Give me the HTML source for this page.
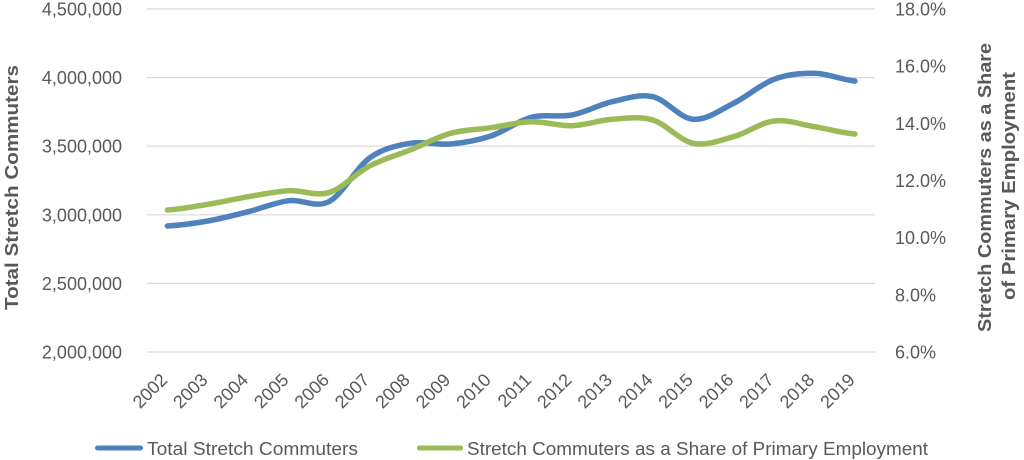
<!DOCTYPE html>
<html>
<head>
<meta charset="utf-8">
<style>
  html, body { margin:0; padding:0; background:#fff; }
  svg { display:block; }
  text { font-family: "Liberation Sans", "DejaVu Sans", sans-serif; fill:#595959; }
</style>
</head>
<body>
<svg width="1024" height="460" viewBox="0 0 1024 460" xmlns="http://www.w3.org/2000/svg">
  <rect x="0" y="0" width="1024" height="460" fill="#ffffff"/>

  <g stroke="#D9D9D9" stroke-width="1.2">
    <line x1="147" y1="9" x2="875" y2="9"/>
    <line x1="147" y1="77.6" x2="875" y2="77.6"/>
    <line x1="147" y1="146.2" x2="875" y2="146.2"/>
    <line x1="147" y1="214.8" x2="875" y2="214.8"/>
    <line x1="147" y1="283.4" x2="875" y2="283.4"/>
    <line x1="147" y1="352" x2="875" y2="352"/>
  </g>

  <g font-size="18" text-anchor="end">
    <text x="122" y="15.5">4,500,000</text>
    <text x="122" y="84.1">4,000,000</text>
    <text x="122" y="152.7">3,500,000</text>
    <text x="122" y="221.3">3,000,000</text>
    <text x="122" y="289.9">2,500,000</text>
    <text x="122" y="358.5">2,000,000</text>
  </g>

  <g font-size="18" text-anchor="start">
    <text x="895" y="15.5">18.0%</text>
    <text x="895" y="72.7">16.0%</text>
    <text x="895" y="129.8">14.0%</text>
    <text x="895" y="187">12.0%</text>
    <text x="895" y="244.2">10.0%</text>
    <text x="895" y="301.3">8.0%</text>
    <text x="895" y="358.5">6.0%</text>
  </g>

  <g font-size="18" text-anchor="end">
    <text transform="translate(168.4,381) rotate(-45)">2002</text>
    <text transform="translate(208.8,381) rotate(-45)">2003</text>
    <text transform="translate(249.3,381) rotate(-45)">2004</text>
    <text transform="translate(289.7,381) rotate(-45)">2005</text>
    <text transform="translate(330.2,381) rotate(-45)">2006</text>
    <text transform="translate(370.6,381) rotate(-45)">2007</text>
    <text transform="translate(411.0,381) rotate(-45)">2008</text>
    <text transform="translate(451.5,381) rotate(-45)">2009</text>
    <text transform="translate(491.9,381) rotate(-45)">2010</text>
    <text transform="translate(532.4,381) rotate(-45)">2011</text>
    <text transform="translate(572.8,381) rotate(-45)">2012</text>
    <text transform="translate(613.2,381) rotate(-45)">2013</text>
    <text transform="translate(653.7,381) rotate(-45)">2014</text>
    <text transform="translate(694.1,381) rotate(-45)">2015</text>
    <text transform="translate(734.6,381) rotate(-45)">2016</text>
    <text transform="translate(775.0,381) rotate(-45)">2017</text>
    <text transform="translate(815.4,381) rotate(-45)">2018</text>
    <text transform="translate(855.9,381) rotate(-45)">2019</text>
  </g>

  <text transform="translate(18,187.5) rotate(-90)" text-anchor="middle" font-size="18" font-weight="bold" textLength="245" lengthAdjust="spacingAndGlyphs">Total Stretch Commuters</text>
  <text transform="translate(991,187.5) rotate(-90)" text-anchor="middle" font-size="18" font-weight="bold" textLength="289" lengthAdjust="spacingAndGlyphs">Stretch Commuters as a Share</text>
  <text transform="translate(1015,186) rotate(-90)" text-anchor="middle" font-size="18" font-weight="bold" textLength="228" lengthAdjust="spacingAndGlyphs">of Primary Employment</text>

  <path fill="none" stroke="#4F81BD" stroke-width="5.5" stroke-linecap="round" stroke-linejoin="round"
    d="M167.4,226
       C180.88,225.17 194.36,223.38 207.84,221
       C221.32,218.62 234.8,215.08 248.28,211.7
       C261.76,208.32 275.24,202.4 288.72,200.7
       C302.2,199 315.68,208.62 329.16,201.5
       C342.64,194.38 356.12,167.7 369.6,158
       C383.08,148.3 396.56,145.63 410.04,143.3
       C423.52,140.97 437,145.22 450.48,144
       C463.96,142.78 477.44,140.45 490.92,136
       C504.4,131.55 517.88,120.8 531.36,117.3
       C544.84,113.8 558.32,117.6 571.8,115
       C585.28,112.4 598.76,104.75 612.24,101.7
       C625.72,98.65 639.2,93.77 652.68,96.7
       C666.16,99.63 679.64,118.2 693.12,119.3
       C706.6,120.4 720.08,109.97 733.56,103.3
       C747.04,96.63 760.52,84.3 774,79.3
       C787.48,74.3 800.96,73.02 814.44,73.3
       C827.92,73.58 841.4,79.72 854.88,81"/>

  <path fill="none" stroke="#9BBB59" stroke-width="5.5" stroke-linecap="round" stroke-linejoin="round"
    d="M167.4,210
       C180.88,209.05 194.36,206.52 207.84,204.3
       C221.32,202.08 234.8,198.97 248.28,196.7
       C261.76,194.43 275.24,191.4 288.72,190.7
       C302.2,190 315.68,196.62 329.16,192.5
       C342.64,188.38 356.12,173.08 369.6,166
       C383.08,158.92 396.56,155.45 410.04,150
       C423.52,144.55 437,137.02 450.48,133.3
       C463.96,129.58 477.44,129.63 490.92,127.7
       C504.4,125.77 517.88,122.03 531.36,121.7
       C544.84,121.37 558.32,126.1 571.8,125.7
       C585.28,125.3 598.76,120.25 612.24,119.3
       C625.72,118.35 639.2,116 652.68,120
       C666.16,124 679.64,140.52 693.12,143.3
       C706.6,146.08 720.08,140.42 733.56,136.7
       C747.04,132.98 760.52,122.67 774,121
       C787.48,119.33 800.96,124.53 814.44,126.7
       C827.92,128.87 841.4,132.78 854.88,134"/>

  <line x1="97.5" y1="448" x2="140.5" y2="448" stroke="#4F81BD" stroke-width="5" stroke-linecap="round"/>
  <text x="147" y="455" font-size="18" textLength="211" lengthAdjust="spacingAndGlyphs">Total Stretch Commuters</text>
  <line x1="419.5" y1="448" x2="460.5" y2="448" stroke="#9BBB59" stroke-width="5" stroke-linecap="round"/>
  <text x="467" y="455" font-size="18" textLength="461" lengthAdjust="spacingAndGlyphs">Stretch Commuters as a Share of Primary Employment</text>
</svg>
</body>
</html>
